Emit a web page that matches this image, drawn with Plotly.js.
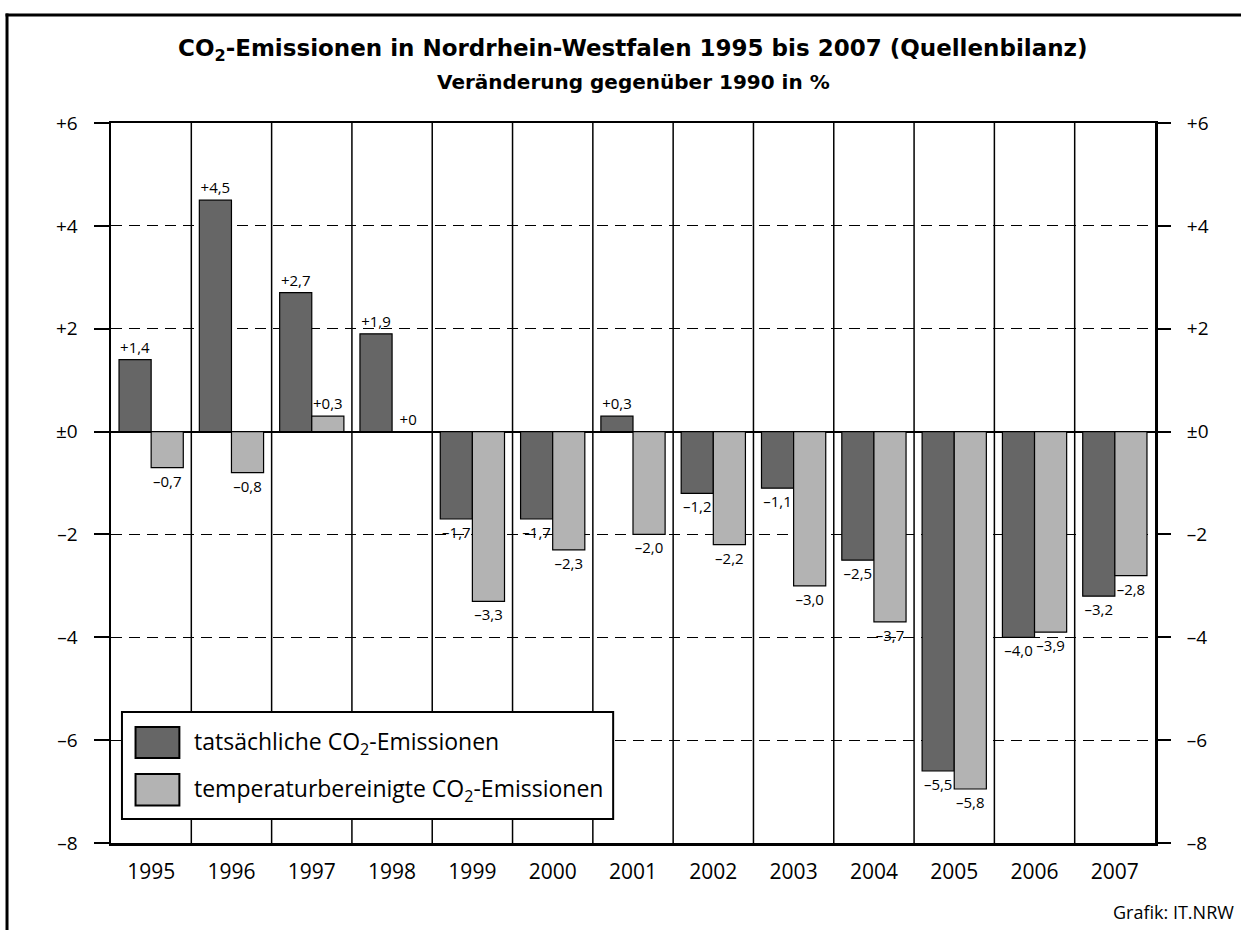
<!DOCTYPE html>
<html>
<head>
<meta charset="utf-8">
<script src="https://cdn.plot.ly/plotly-3.0.1.min.js"></script>
<style>
  html, body { margin: 0; padding: 0; background: #fff; }
  #chart { width: 1241px; height: 930px; }
</style>
</head>
<body>
<div id="chart"></div>
<script>
// ---- data ----
const years = ["1995","1996","1997","1998","1999","2000","2001","2002","2003","2004","2005","2006","2007"];
// bar lengths as drawn in the picture (the 2005 bars are drawn longer than their labels)
const actual = [1.4, 4.5, 2.7, 1.9, -1.7, -1.7, 0.3, -1.2, -1.1, -2.5, -6.6, -4.0, -3.2];
const tempAdjusted = [-0.7, -0.8, 0.3, 0.0, -3.3, -2.3, -2.0, -2.2, -3.0, -3.7, -6.95, -3.9, -2.8];
// value labels as printed
const actualLabels = ["+1,4", "+4,5", "+2,7", "+1,9", "\u20131,7", "\u20131,7", "+0,3", "\u20131,2", "\u20131,1", "\u20132,5", "\u20135,5", "\u20134,0", "\u20133,2"];
const adjustedLabels = ["\u20130,7", "\u20130,8", "+0,3", "+0", "\u20133,3", "\u20132,3", "\u20132,0", "\u20132,2", "\u20133,0", "\u20133,7", "\u20135,8", "\u20133,9", "\u20132,8"];
const yTickVals = [-8, -6, -4, -2, 0, 2, 4, 6];
const yTickText = ["\u20138", "\u20136", "\u20134", "\u20132", "\u00b10", "+2", "+4", "+6"];
const seriesNames = ["tats\u00e4chliche CO<sub>2</sub>-Emissionen", "temperaturbereinigte CO<sub>2</sub>-Emissionen"];

const FONT = "Open Sans, Noto Sans, sans-serif";
const BOLDFONT = "DejaVu Sans, Open Sans, sans-serif";
const darkCol = "#666666";
const lightCol = "#b3b3b3";

const traces = [
  {
    type: "bar", x: years, y: actual, name: seriesNames[0],
    marker: { color: darkCol, line: { color: "#000", width: 1.2 } },
    text: actualLabels, textposition: "outside", cliponaxis: false,
    textfont: { family: FONT, size: 15, color: "#000" },
    hoverinfo: "x+text", showlegend: false
  },
  {
    type: "bar", x: years, y: tempAdjusted, name: seriesNames[1],
    marker: { color: lightCol, line: { color: "#000", width: 1.2 } },
    text: adjustedLabels, textposition: "outside", cliponaxis: false,
    textfont: { family: FONT, size: 15, color: "#000" },
    hoverinfo: "x+text", showlegend: false
  },
  // carrier for the right-hand value axis (draws nothing)
  {
    type: "scatter", mode: "none", x: years, y: actual, yaxis: "y2",
    hoverinfo: "skip", showlegend: false
  }
];

// vertical category dividers
const shapes = [];
for (let i = 0; i < years.length - 1; i++) {
  shapes.push({ type: "line", xref: "x", yref: "paper", x0: i + 0.5, x1: i + 0.5, y0: 0, y1: 1,
    line: { color: "#000", width: 1.5 }, layer: "below" });
}
// outer frame (top and left)
shapes.push({ type: "line", xref: "paper", yref: "paper", x0: -0.101, x1: 1.1, y0: 1.15, y1: 1.15, line: { color: "#000", width: 3 } });
shapes.push({ type: "line", xref: "paper", yref: "paper", x0: -0.0996, x1: -0.0996, y0: 1.152, y1: -0.125, line: { color: "#000", width: 3 } });
// legend box
shapes.push({ type: "rect", xref: "paper", yref: "paper", x0: 0.0105, x1: 0.481, y0: 0.0333, y1: 0.182,
  fillcolor: "#fff", line: { color: "#000", width: 2 }, layer: "above" });
shapes.push({ type: "rect", xref: "paper", yref: "paper", x0: 0.0235, x1: 0.0655, y0: 0.118, y1: 0.161,
  fillcolor: darkCol, line: { color: "#000", width: 2 }, layer: "above" });
shapes.push({ type: "rect", xref: "paper", yref: "paper", x0: 0.0235, x1: 0.0655, y0: 0.052, y1: 0.096,
  fillcolor: lightCol, line: { color: "#000", width: 2 }, layer: "above" });

const annotations = [
  { xref: "paper", yref: "paper", x: 0.5, y: 1.101, yanchor: "middle", showarrow: false,
    text: "<b>CO<sub>2</sub>-Emissionen in Nordrhein-Westfalen 1995 bis 2007 (Quellenbilanz)</b>",
    font: { family: BOLDFONT, size: 23, color: "#000" } },
  { xref: "paper", yref: "paper", x: 0.5, y: 1.057, yanchor: "middle", showarrow: false,
    text: "<b>Ver\u00e4nderung gegen\u00fcber 1990 in %</b>",
    font: { family: BOLDFONT, size: 20, color: "#000" } },
  { xref: "paper", yref: "paper", x: 0.078, y: 0.1395, xanchor: "left", yanchor: "middle", showarrow: false,
    text: seriesNames[0], font: { family: FONT, size: 23, color: "#000" } },
  { xref: "paper", yref: "paper", x: 0.078, y: 0.074, xanchor: "left", yanchor: "middle", showarrow: false,
    text: seriesNames[1], font: { family: FONT, size: 23, color: "#000" } },
  { xref: "paper", yref: "paper", x: 1.0775, y: -0.096, xanchor: "right", yanchor: "middle", showarrow: false,
    text: "Grafik: IT.NRW", font: { family: FONT, size: 18, color: "#000" } }
];

const yCommon = {
  range: [-8, 6], tickmode: "array", tickvals: yTickVals, ticktext: yTickText,
  ticks: "outside", ticklen: 15, tickwidth: 2, tickcolor: "#000",
  tickfont: { family: FONT, size: 19, color: "#000" },
  fixedrange: true
};

const layout = {
  width: 1241, height: 930,
  margin: { l: 111, r: 86, t: 123, b: 87 },
  paper_bgcolor: "#fff", plot_bgcolor: "#fff",
  barmode: "group", bargap: 0.2, bargroupgap: 0,
  font: { family: FONT, color: "#000" },
  showlegend: false,
  xaxis: {
    type: "category", showline: true, mirror: true, linewidth: 2.5, linecolor: "#000",
    ticks: "", tickfont: { family: FONT, size: 21, color: "#000" }, showgrid: false,
    ticklabelstandoff: 8, fixedrange: true
  },
  yaxis: Object.assign({}, yCommon, {
    side: "left", showline: true, mirror: true, linewidth: 2.5, linecolor: "#000",
    showgrid: true, gridcolor: "#000", gridwidth: 1, griddash: "11px,7px",
    zeroline: true, zerolinecolor: "#000", zerolinewidth: 2, ticklabelstandoff: 12
  }),
  yaxis2: Object.assign({}, yCommon, {
    side: "right", overlaying: "y", showline: false, showgrid: false, zeroline: false,
    ticklabelstandoff: 12
  }),
  shapes: shapes,
  annotations: annotations
};

Plotly.newPlot("chart", traces, layout, { displayModeBar: false, staticPlot: true });
</script>
</body>
</html>
